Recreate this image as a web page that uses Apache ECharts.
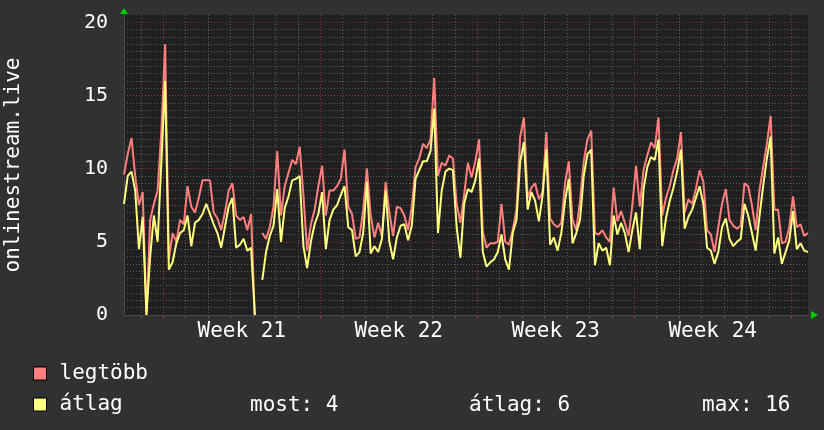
<!DOCTYPE html>
<html>
<head>
<meta charset="utf-8">
<script src="https://cdn.jsdelivr.net/npm/echarts@6/dist/echarts.min.js"></script>
<style>
html, body { margin: 0; padding: 0; background: #313131; }
#chart { width: 824px; height: 430px; }
</style>
</head>
<body>
<div id="chart"></div>
<script>
// 4 órás minták 2024-05-18 06:00 (UTC) -tól, a kategória tengely 2 órás
const startTime = Date.UTC(2024, 4, 18, 6, 0);
const categoryStepHours = 2;
const seriesNames = ['legtöbb', 'átlag'];
const statNames = ['most', 'átlag', 'max'];
const statValues = [4, 6, 16];

// legtöbb (max)
const maxValues = [
    9.6, 11.0, 12.1, 9.5, 7.5, 8.4, 0, 6.5, 7.6, 8.5,
    12.6, 18.5, 3.8, 5.6, 5.0, 6.5, 6.2, 8.8, 7.4, 7.0,
    8.0, 9.2, 9.2, 9.2, 7.0, 6.6, 5.8, 7.0, 8.5, 9.0,
    6.8, 6.5, 6.7, 5.8, 6.9, 0, null, 5.6, 5.2, 6.0,
    7.4, 11.2, 6.8, 8.8, 9.7, 10.6, 10.3, 11.5, 8.2, 4.4,
    6.2, 7.2, 8.8, 10.2, 6.8, 8.5, 8.5, 8.8, 9.3, 11.3,
    7.4, 6.9, 5.2, 5.3, 7.2, 10.0, 6.8, 5.3, 6.3, 5.4,
    9.1, 7.0, 5.4, 7.4, 7.3, 6.8, 5.8, 7.4, 10.1, 10.7,
    11.7, 11.4, 12.0, 16.2, 9.5, 10.4, 10.2, 10.9, 10.7, 7.6,
    6.3, 8.2, 10.4, 9.4, 10.5, 12.0, 5.7, 4.6, 4.9, 4.9,
    5.0, 7.6, 5.0, 4.8, 5.8, 7.2, 12.2, 13.5, 8.0, 8.7,
    9.0, 7.9, 8.4, 12.5, 6.6, 6.2, 6.0, 6.3, 9.0, 10.5,
    6.5, 5.8, 7.8, 10.5, 12.0, 12.6, 5.6, 5.5, 5.8, 5.3,
    5.0, 8.7, 6.4, 7.1, 6.3, 5.4, 7.5, 10.2, 7.4, 9.9,
    10.9, 11.8, 11.4, 13.5, 6.8, 8.0, 8.8, 9.9, 10.7, 12.5,
    7.0, 7.9, 7.6, 8.6, 9.9, 9.1, 5.8, 5.5, 4.3, 6.0,
    7.6, 8.6, 6.5, 6.1, 5.9, 6.1, 9.0, 8.8, 7.5, 5.8,
    8.5, 10.1, 11.7, 13.6, 7.2, 7.2, 4.9, 5.0, 6.0, 8.1,
    6.0, 6.2, 5.4, 5.6
];

// átlag
const avgValues = [
    7.6, 9.5, 9.8, 8.5, 4.5, 6.7, 0, 4.0, 6.8, 5.0,
    10.5, 16.0, 3.1, 3.6, 4.9, 5.6, 5.8, 6.8, 4.7, 6.3,
    6.5, 6.9, 7.6, 6.9, 6.2, 5.6, 4.6, 6.0, 7.4, 8.0,
    4.6, 4.8, 5.2, 4.4, 4.6, 0, null, 2.4, 4.3, 5.4,
    6.1, 8.6, 5.0, 7.3, 8.1, 9.2, 9.3, 9.5, 4.7, 3.2,
    5.0, 6.2, 6.9, 8.4, 4.5, 6.5, 7.2, 7.5, 8.2, 8.8,
    6.0, 5.8, 4.0, 4.3, 5.6, 9.1, 4.2, 4.7, 4.3, 5.2,
    8.5, 5.0, 3.8, 5.3, 6.1, 6.2, 5.1, 6.1, 9.3, 9.9,
    10.5, 10.5, 11.2, 14.1, 5.6, 8.5, 9.8, 10.0, 9.9, 6.0,
    3.9, 7.6, 8.6, 8.4, 9.2, 10.7, 4.3, 3.3, 3.6, 3.8,
    4.3, 5.5, 3.8, 3.1, 5.6, 6.5, 10.5, 11.8, 7.2, 8.4,
    7.8, 6.4, 8.2, 11.3, 4.8, 5.3, 4.4, 5.6, 7.8, 9.3,
    4.9, 5.6, 6.5, 9.5, 11.0, 11.3, 3.4, 4.9, 4.4, 4.6,
    3.4, 6.8, 5.5, 6.3, 5.6, 4.3, 5.8, 7.0, 4.5, 8.6,
    10.1, 10.8, 10.6, 12.0, 4.7, 6.6, 7.8, 8.7, 9.8, 11.3,
    5.9, 6.7, 7.2, 8.0, 8.8, 7.6, 4.6, 4.4, 3.5, 4.3,
    6.0, 6.6, 5.2, 4.7, 5.0, 5.2, 7.6, 6.8, 5.6, 4.4,
    6.7, 8.8, 10.7, 12.2, 4.2, 5.3, 3.5, 4.3, 5.1, 7.1,
    4.5, 4.9, 4.4, 4.3
];

const font = 'DejaVu Sans Mono';
const dots = [1, 2];

// időpontok a kategória tengelyhez
let times = [];
for (let i = 0; i < (maxValues.length - 1) * 2 + 1; i++) {
    times.push(startTime + i * categoryStepHours * 3600000);
}
const dayStart = (i) => new Date(times[i]).getUTCHours() === 0;
const weekStart = (i) => dayStart(i) && new Date(times[i]).getUTCDay() === 1;
const weekMiddle = (i) => {
    let d = new Date(times[i]);
    return d.getUTCDay() === 4 && d.getUTCHours() === 12;
};
// ISO hét (csütörtökre)
const weekNumber = (t) => {
    let d = new Date(t);
    let jan1 = Date.UTC(d.getUTCFullYear(), 0, 1);
    return Math.floor((t - jan1) / 86400000 / 7) + 1;
};

const toSeries = (values) => values.map((v, i) => [i * 2, v]);

let myChart = echarts.init(document.getElementById('chart'));
let option = {
    backgroundColor: '#313131',
    animation: false,
    textStyle: { fontFamily: font },
    grid: {
        left: 124, right: 16, top: 15, bottom: 115,
        outerBoundsMode: 'none',
        containLabel: false,
        show: true, backgroundColor: '#202020', borderWidth: 0
    },
    xAxis: [
        {
            type: 'category',
            data: times.map(String),
            boundaryGap: false,
            axisLine: { lineStyle: { color: '#4a4a4a', width: 1 } },
            axisTick: {
                interval: (i) => dayStart(i) && !weekStart(i),
                length: 3,
                lineStyle: { color: '#555' }
            },
            axisLabel: {
                interval: (i) => weekMiddle(i),
                formatter: (v) => 'Week ' + weekNumber(Number(v)),
                color: '#ffffff',
                fontFamily: font,
                fontSize: 21,
                margin: 6
            },
            splitLine: {
                show: true,
                interval: (i) => dayStart(i) && !weekStart(i),
                lineStyle: { color: '#5a5a5a', type: dots, width: 1 }
            }
        },
        {
            type: 'category',
            data: times.map(String),
            boundaryGap: false,
            position: 'bottom',
            axisLine: { show: false },
            axisTick: {
                interval: (i) => weekStart(i),
                length: 3,
                lineStyle: { color: '#a03838' }
            },
            axisLabel: { show: false },
            splitLine: {
                show: true,
                interval: (i) => weekStart(i),
                lineStyle: { color: '#8c3434', type: dots, width: 1 }
            }
        }
    ],
    yAxis: [
        {
            type: 'value',
            min: 0,
            max: 20.5,
            interval: 5,
            z: 2,
            name: 'onlinestream.live',
            nameLocation: 'middle',
            nameGap: 100,
            nameTextStyle: { color: '#ffffff', fontFamily: font, fontSize: 21 },
            axisLine: { show: true, lineStyle: { color: '#4a4a4a', width: 1 } },
            axisTick: { show: false },
            axisLabel: {
                color: '#ffffff',
                fontFamily: font,
                fontSize: 20,
                margin: 16,
                showMaxLabel: false
            },
            splitLine: {
                show: true,
                showMinLine: false,
                showMaxLine: false,
                lineStyle: { color: '#8c3434', type: dots, width: 1 }
            }
        },
        {
            type: 'value',
            min: 0,
            max: 20.5,
            interval: 0.5,
            position: 'left',
            axisLine: { show: false },
            axisTick: { show: false },
            axisLabel: { show: false },
            splitLine: {
                show: true,
                showMinLine: false,
                showMaxLine: false,
                lineStyle: { color: '#5a5a5a', type: dots, width: 1 }
            }
        }
    ],
    legend: {
        orient: 'vertical',
        left: 33,
        top: 363,
        padding: 0,
        icon: 'rect',
        itemWidth: 13,
        itemHeight: 13,
        itemGap: 10,
        itemStyle: { borderColor: '#000000', borderWidth: 1 },
        textStyle: { color: '#ffffff', fontFamily: font, fontSize: 21, padding: [0, 0, 0, 8] },
        data: seriesNames
    },
    graphic: [
        { type: 'polygon', shape: { points: [[120, 14], [128, 14], [124, 8]] }, style: { fill: '#00cc00' } },
        { type: 'polygon', shape: { points: [[811, 311], [811, 319], [818, 315]] }, style: { fill: '#00cc00' } },
        { type: 'text', left: 250, top: 395, style: { text: statNames[0] + ': ' + statValues[0], fill: '#ffffff', font: '21px "DejaVu Sans Mono"' } },
        { type: 'text', left: 469, top: 395, style: { text: statNames[1] + ': ' + statValues[1], fill: '#ffffff', font: '21px "DejaVu Sans Mono"' } },
        { type: 'text', left: 702, top: 395, style: { text: statNames[2] + ': ' + statValues[2], fill: '#ffffff', font: '21px "DejaVu Sans Mono"' } }
    ],
    series: [
        {
            name: seriesNames[0],
            type: 'line',
            data: toSeries(maxValues),
            showSymbol: false,
            color: '#ff7f7f',
            lineStyle: { color: '#ff7f7f', width: 2 }
        },
        {
            name: seriesNames[1],
            type: 'line',
            data: toSeries(avgValues),
            showSymbol: false,
            color: '#ffff7f',
            lineStyle: { color: '#ffff7f', width: 2 }
        }
    ]
};
myChart.setOption(option);
</script>
</body>
</html>
